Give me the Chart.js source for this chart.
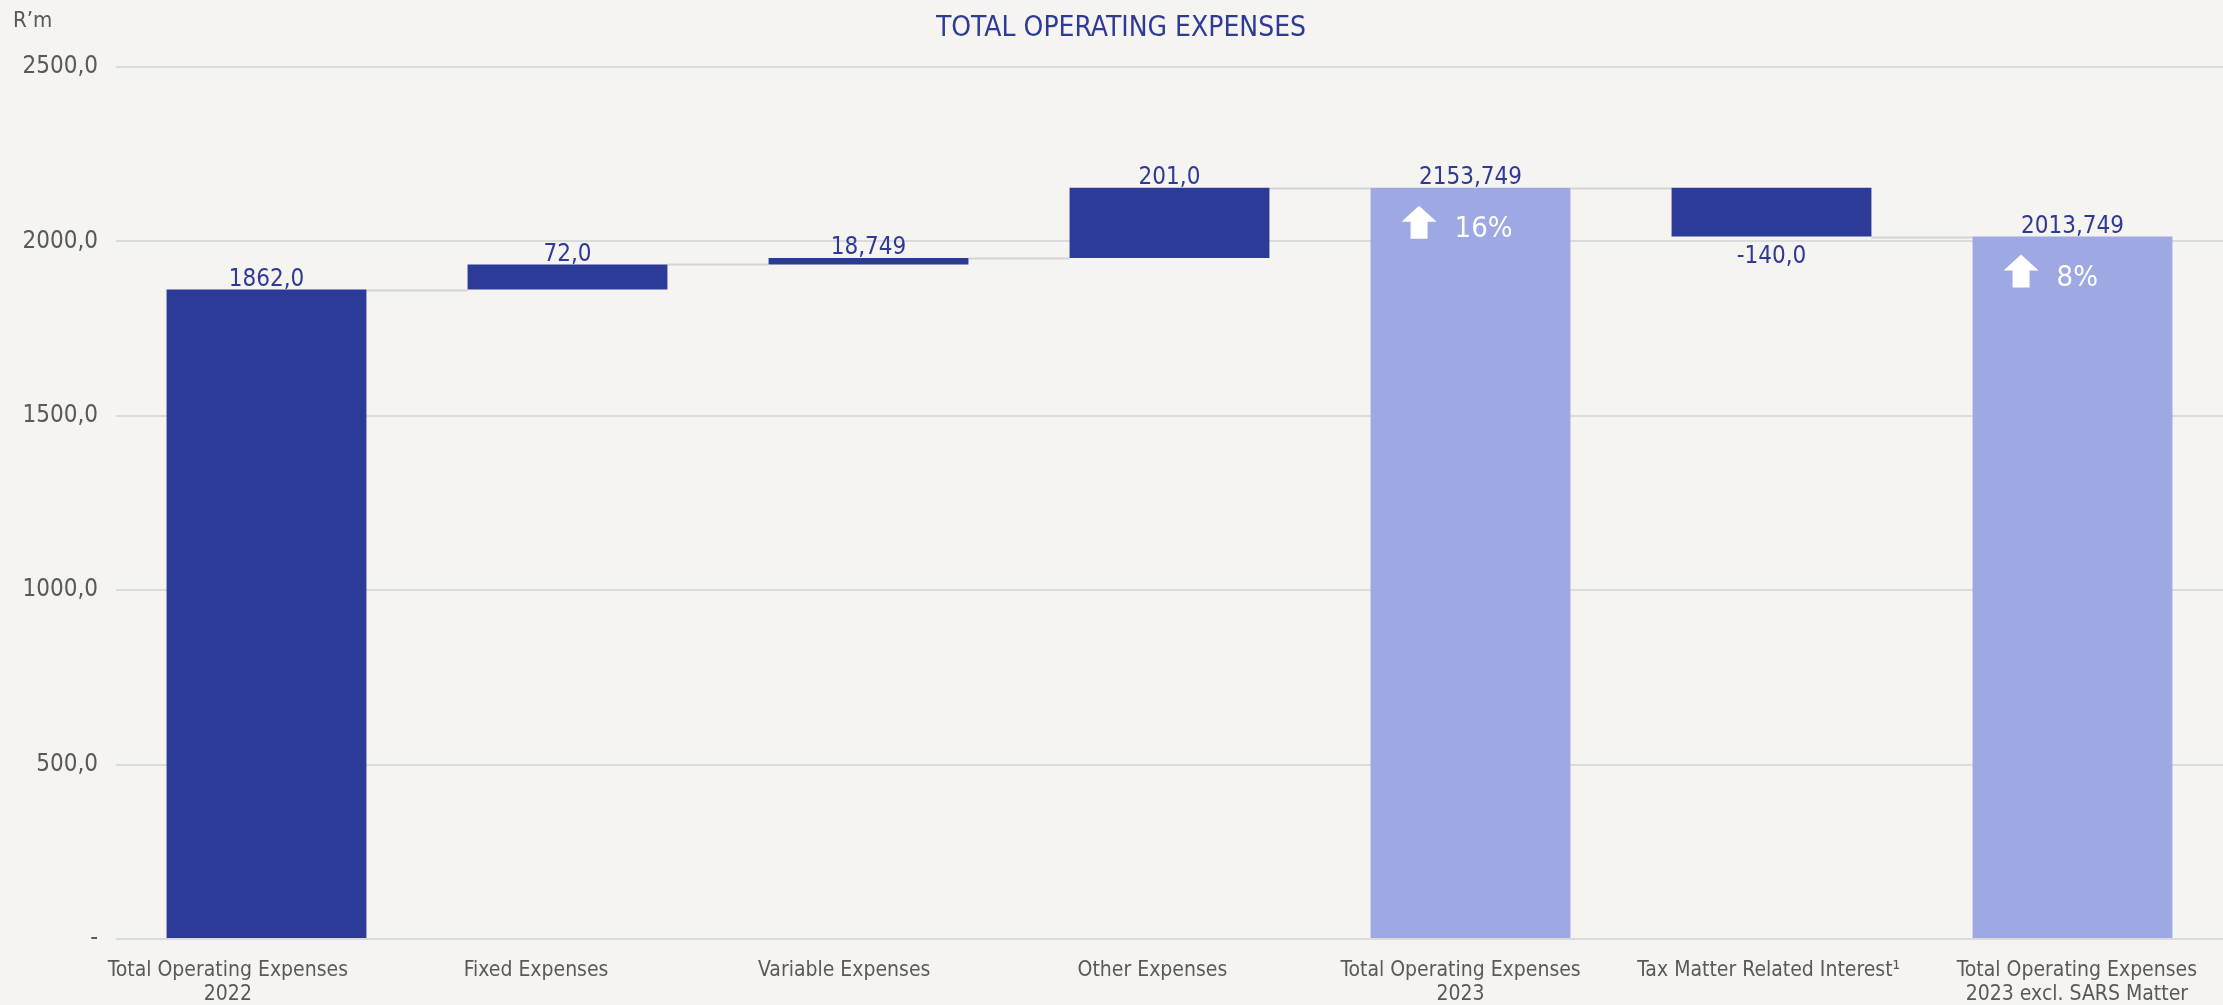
<!DOCTYPE html>
<html>
<head>
<meta charset="utf-8">
<title>Total operating expenses</title>
<script src="https://cdn.jsdelivr.net/npm/chart.js@4/dist/chart.umd.min.js"></script>
<style>
  html, body { margin: 0; padding: 0; background: #f5f4f0; }
  #wrap { width: 2223px; height: 1005px; }
</style>
</head>
<body>
<div id="wrap"><canvas id="opexChart" width="2223" height="1005"></canvas></div>
<script>
// Waterfall of operating expenses, R'm. "total" bars start at zero,
// "step" bars float on the running total.
const categories = [
  ["Total Operating Expenses", "2022"],
  "Fixed Expenses",
  "Variable Expenses",
  "Other Expenses",
  ["Total Operating Expenses", "2023"],
  "Tax Matter Related Interest\u00b9",
  ["Total Operating Expenses", "2023 excl. SARS Matter"],
];
const amounts = [1862.0, 72.0, 18.749, 201.0, 2153.749, -140.0, 2013.749];
const barKinds = ["total", "step", "step", "step", "total", "step", "total"];
const growthLabels = [null, null, null, null, "16%", null, "8%"];
const yTicks = [0, 500, 1000, 1500, 2000, 2500];

const FONT = '"DejaVu Sans Condensed", "DejaVu Sans", sans-serif';
const COLORS = {
  bg: "#f5f4f0",
  bar: "#2c3b98",
  highlight: "#9ea8e2",   // current-year totals carrying a growth badge
  title: "#2e3a96",
  axisText: "#595959",
  grid: "#d9dbdc",
  connector: "#d4d4d8",
};

// Running totals -> [start, end] pairs for floating bars, plus the level
// each connector line leaves from.
const ranges = [];
const levels = [];
let running = 0;
amounts.forEach((v, i) => {
  if (barKinds[i] === "total") {
    running = v;
    ranges.push([0, v]);
  } else {
    ranges.push([running, running + v]);
    running += v;
  }
  levels.push(running);
});

const fmt = (v) => (Number.isInteger(v) ? v.toFixed(1) : v.toFixed(3)).replace(".", ",");

const paintBackground = {
  id: "paintBackground",
  beforeDraw(chart) {
    const { ctx, width, height } = chart;
    ctx.save();
    ctx.fillStyle = COLORS.bg;
    ctx.fillRect(0, 0, width, height);
    ctx.restore();
  },
};

const headings = {
  id: "headings",
  afterDraw(chart) {
    const { ctx } = chart;
    ctx.save();
    ctx.textBaseline = "alphabetic";
    ctx.fillStyle = COLORS.title;
    ctx.font = `28px ${FONT}`;
    ctx.textAlign = "center";
    ctx.fillText("TOTAL OPERATING EXPENSES", 1121, 36);
    ctx.fillStyle = COLORS.axisText;
    ctx.font = `22px ${FONT}`;
    ctx.textAlign = "left";
    ctx.fillText("R\u2019m", 13, 27);
    ctx.restore();
  },
};

// Thin grey steps joining each bar to the next one.
const connectors = {
  id: "connectors",
  beforeDatasetsDraw(chart) {
    const { ctx } = chart;
    const bars = chart.getDatasetMeta(0).data;
    const y = chart.scales.y;
    ctx.save();
    ctx.strokeStyle = COLORS.connector;
    ctx.lineWidth = 2;
    for (let i = 0; i < bars.length - 1; i++) {
      const a = bars[i], b = bars[i + 1];
      const py = Math.round(y.getPixelForValue(levels[i])) + 0.5;
      ctx.beginPath();
      ctx.moveTo(a.x + a.width / 2, py);
      ctx.lineTo(b.x - b.width / 2, py);
      ctx.stroke();
    }
    ctx.restore();
  },
};

const valueLabels = {
  id: "valueLabels",
  afterDatasetsDraw(chart) {
    const { ctx } = chart;
    const bars = chart.getDatasetMeta(0).data;
    ctx.save();
    ctx.textAlign = "center";
    ctx.textBaseline = "alphabetic";
    bars.forEach((el, i) => {
      const top = Math.min(el.y, el.base);
      const bottom = Math.max(el.y, el.base);
      ctx.fillStyle = COLORS.title;
      ctx.font = `24px ${FONT}`;
      if (amounts[i] < 0) {
        ctx.fillText(fmt(amounts[i]), el.x, bottom + 26);
      } else {
        ctx.fillText(fmt(amounts[i]), el.x, top - 3.5);
      }

      if (!growthLabels[i]) return;
      const left = el.x - el.width / 2;
      // up arrow
      ctx.fillStyle = "#ffffff";
      ctx.beginPath();
      ctx.moveTo(left + 48.5, top + 18);
      ctx.lineTo(left + 66, top + 34);
      ctx.lineTo(left + 57, top + 34);
      ctx.lineTo(left + 57, top + 51);
      ctx.lineTo(left + 40, top + 51);
      ctx.lineTo(left + 40, top + 34);
      ctx.lineTo(left + 31, top + 34);
      ctx.closePath();
      ctx.fill();
      ctx.font = `29px ${FONT}`;
      ctx.textAlign = "left";
      ctx.fillText(growthLabels[i], left + 84, top + 49);
      ctx.textAlign = "center";
    });
    ctx.restore();
  },
};

new Chart(document.getElementById("opexChart").getContext("2d"), {
  type: "bar",
  data: {
    labels: categories,
    datasets: [{
      data: ranges,
      backgroundColor: growthLabels.map((g) => (g ? COLORS.highlight : COLORS.bar)),
      borderWidth: 0,
      borderSkipped: false,
      categoryPercentage: 1,
      barPercentage: 0.664,
      xAxisID: "x",
      yAxisID: "y",
    }],
  },
  options: {
    responsive: false,
    animation: false,
    devicePixelRatio: 1,
    layout: { padding: { top: 67, right: 0, bottom: 0, left: 0 } },
    plugins: {
      legend: { display: false },
      title: { display: false },
      tooltip: { enabled: false },
    },
    scales: {
      x: {
        type: "category",
        display: false,
        offset: true,
      },
      // Tick labels sit on their own axis; the label row is spread a
      // little wider than the bars.
      xl: {
        type: "linear",
        position: "bottom",
        offset: false,
        min: -0.363,
        max: 6.474,
        afterBuildTicks: (axis) => {
          axis.ticks = categories.map((_, i) => ({ value: i }));
        },
        afterFit: (axis) => { axis.height = 66; },
        grid: { display: false, drawTicks: false, offset: false },
        border: { display: false },
        ticks: {
          autoSkip: false,
          maxRotation: 0,
          padding: 19,
          color: COLORS.axisText,
          font: { family: FONT, size: 21, lineHeight: 1.15 },
          callback: (v) => categories[v],
        },
      },
      y: {
        min: 0,
        max: 2500,
        afterBuildTicks: (axis) => {
          axis.ticks = yTicks.map((v) => ({ value: v }));
        },
        afterFit: (axis) => { axis.width = 116; },
        grid: { color: COLORS.grid, lineWidth: 2, drawTicks: false },
        border: { display: false },
        ticks: {
          padding: 18,
          color: COLORS.axisText,
          font: { family: FONT, size: 24 },
          callback: (v) => (v === 0 ? "-" : v.toFixed(1).replace(".", ",")),
        },
      },
    },
  },
  plugins: [paintBackground, connectors, valueLabels, headings],
});
</script>
</body>
</html>
